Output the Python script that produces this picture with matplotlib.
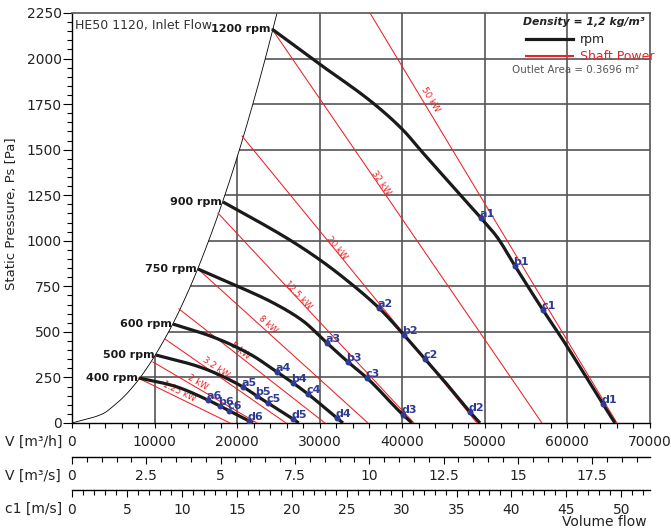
import numpy as np
import matplotlib
matplotlib.use('Agg')
import matplotlib.pyplot as plt
from matplotlib.patches import Polygon
from matplotlib.ticker import MultipleLocator

# ---------------- data ----------------
# system-limit (boundary) curve
bound_V = [0, 3700, 5200, 6400, 8270, 11700, 14340, 16550, 18510, 20280, 21900, 23410, 24830]
bound_P = [0, 50, 100, 150, 250, 500, 750, 1000, 1250, 1500, 1750, 2000, 2250]

# fan curves
rpm_labels = ['1200 rpm', '900 rpm', '750 rpm', '600 rpm', '500 rpm', '400 rpm']
V_1200 = [24220, 29791, 36451, 40084, 42506, 44800, 47000, 49530, 51468, 53647, 57038, 59460, 64304, 65757]
P_1200 = [2162, 1976, 1756, 1608, 1482, 1365, 1252, 1125, 1021, 862, 620, 455, 104, 0]
V_900 = [18286, 22000, 26400, 30033, 32818, 37178, 40205, 42748, 44565, 48198, 49409]
P_900 = [1213, 1120, 1004, 895, 800, 631, 483, 351, 258, 60, 0]
V_750 = [15259, 19982, 24341, 27974, 30881, 33424, 35725, 40084, 41174]
P_750 = [845, 752, 660, 560, 439, 335, 247, 45, 0]
V_600 = [12231, 17075, 21556, 24826, 26763, 28580, 32092, 32818]
P_600 = [543, 472, 378, 280, 220, 159, 27, 0]
V_500 = [10172, 15501, 20708, 22404, 23736, 26763, 27450]
P_500 = [373, 307, 198, 148, 110, 22, 0]
V_400 = [8114, 12231, 16470, 17923, 19013, 21435, 21919]
P_400 = [247, 205, 126, 93, 68, 11, 0]

# shaft power lines (start on boundary, end on V axis)
kw_labels = ['1.25 kW', '2 kW', '3.2 kW', '5 kW', '8 kW', '12.5 kW', '20 kW', '32 kW', '50 kW']
kw_V0 = [7993, 9809, 11262, 12958, 15259, 17681, 20587, 24220, 36088]
kw_P0 = [247, 335, 461, 626, 845, 1152, 1575, 2162, 2250]
kw_V1 = [19134, 22404, 25915, 30638, 35846, 41416, 49046, 56917, 65999]
kw_P1 = [0, 0, 0, 0, 0, 0, 0, 0, 0]
kw_lab_V = [12958, 15259, 17438, 20345, 23736, 27369, 32092, 37420, 43354]
kw_lab_P = [170, 225, 307, 395, 543, 702, 960, 1317, 1773]

# operating points
op_labels = ['a1', 'b1', 'c1', 'd1', 'a2', 'b2', 'c2', 'd2', 'a3', 'b3', 'c3', 'd3',
             'a4', 'b4', 'c4', 'd4', 'a5', 'b5', 'c5', 'd5', 'a6', 'b6', 'c6', 'd6']
op_V = [49530, 53647, 57038, 64304, 37178, 40205, 42748, 48198, 30881, 33424, 35725, 40084,
        24826, 26763, 28580, 32092, 20708, 22404, 23736, 26763, 16470, 17923, 19013, 21435]
op_P = [1125, 862, 620, 104, 631, 483, 351, 60, 439, 335, 247, 45,
        280, 220, 159, 27, 198, 148, 110, 22, 126, 93, 68, 11]

outlet_area = 0.3696
V_max = 70000
P_max = 2250

# ---------------- helpers ----------------
W, H = 671, 530


def pchip(xs, ys, n=400):
    """Monotone cubic (Fritsch-Carlson) through the read points."""
    x = np.asarray(xs, float)
    y = np.asarray(ys, float)
    h = np.diff(x)
    d = np.diff(y) / h
    m = np.zeros_like(x)
    m[0], m[-1] = d[0], d[-1]
    for k in range(1, len(x) - 1):
        if d[k - 1] * d[k] <= 0:
            m[k] = 0
        else:
            w1 = 2 * h[k] + h[k - 1]
            w2 = h[k] + 2 * h[k - 1]
            m[k] = (w1 + w2) / (w1 / d[k - 1] + w2 / d[k])
    xx = np.linspace(x[0], x[-1], n)
    idx = np.clip(np.searchsorted(x, xx) - 1, 0, len(x) - 2)
    t = (xx - x[idx]) / h[idx]
    h00 = 2 * t ** 3 - 3 * t ** 2 + 1
    h10 = t ** 3 - 2 * t ** 2 + t
    h01 = -2 * t ** 3 + 3 * t ** 2
    h11 = t ** 3 - t ** 2
    yy = h00 * y[idx] + h10 * h[idx] * m[idx] + h01 * y[idx + 1] + h11 * h[idx] * m[idx + 1]
    return xx, yy


def fx(x):
    return x / W


def fy(y):
    return 1 - y / H


plt.rcParams['font.family'] = ['DejaVu Sans']
fig = plt.figure(figsize=(W / 100, H / 100), dpi=100)
ax = fig.add_axes([fx(72), fy(423), 578 / W, 410 / H])
ax.set_xlim(0, V_max)
ax.set_ylim(0, P_max)

# grid clipped to the region right of the boundary curve
bV, bP = pchip(bound_V, bound_P)
verts = list(zip(bV, bP)) + [(V_max, P_max), (V_max, 0)]
clip = Polygon(verts, closed=True, transform=ax.transData)
grid_col = '#555555'
hl = ax.hlines(np.arange(250, P_max, 250), 0, V_max, colors=grid_col, lw=1.2, zorder=1)
vl = ax.vlines(np.arange(10000, V_max, 10000), 0, P_max, colors=grid_col, lw=1.2, zorder=1)
hl.set_clip_path(clip)
vl.set_clip_path(clip)

# boundary curve
ax.plot(bV, bP, color='black', lw=0.6, zorder=2)

# shaft power lines
red = '#ee2024'
for v0, p0, v1, p1, lab, lv, lp in zip(kw_V0, kw_P0, kw_V1, kw_P1, kw_labels, kw_lab_V, kw_lab_P):
    ax.plot([v0, v1], [p0, p1], color=red, lw=0.75, zorder=3)
    d0 = ax.transData.transform((v0, p0))
    d1 = ax.transData.transform((v1, p1))
    ang = np.degrees(np.arctan2(d1[1] - d0[1], d1[0] - d0[0]))
    ax.text(lv, lp, lab, color=red, fontsize=6.3, rotation=ang, rotation_mode='anchor',
            ha='center', va='center', zorder=4)

# fan curves
curves = [(V_1200, P_1200), (V_900, P_900), (V_750, P_750), (V_600, P_600), (V_500, P_500), (V_400, P_400)]
for (vs, ps), lab in zip(curves, rpm_labels):
    cx, cy = pchip(vs, ps)
    ax.plot(cx, cy, color='#1a1a1a', lw=2.3, solid_capstyle='butt', zorder=5)
    ax.annotate(lab, (vs[0], ps[0]), xytext=(-1, 0), textcoords='offset points',
                ha='right', va='center', fontsize=8, fontweight='bold', color='#1a1a1a', zorder=6)

# operating points
blue = '#2e3a94'
ax.plot(op_V, op_P, 'o', color=blue, ms=4.3, zorder=7, mec='none')
for v, p, lab in zip(op_V, op_P, op_labels):
    ax.annotate(lab, (v, p), xytext=(-1, -0.5), textcoords='offset points', ha='left', va='bottom',
                fontsize=8, fontweight='bold', color=blue, zorder=8)

# axes styling
for s in ['top', 'right']:
    ax.spines[s].set_color(grid_col)
    ax.spines[s].set_linewidth(1.2)
for s in ['left', 'bottom']:
    ax.spines[s].set_color('black')
    ax.spines[s].set_linewidth(1.0)
ax.yaxis.set_major_locator(MultipleLocator(250))
ax.yaxis.set_minor_locator(MultipleLocator(50))
ax.xaxis.set_minor_locator(MultipleLocator(2000))
ax.tick_params(axis='y', which='major', length=6.5, width=0.8, pad=1, labelsize=10, labelcolor='#222222')
ax.tick_params(axis='y', which='minor', length=3.6, width=0.8)
ax.tick_params(axis='x', which='major', length=3.6, width=0.8, pad=5, labelsize=10, labelcolor='#222222')
ax.tick_params(axis='x', which='minor', length=3.6, width=0.8)
ax.set_xticks(np.arange(0, V_max + 1, 10000))
ax.set_xticklabels([f'{int(v)}' for v in np.arange(0, V_max + 1, 10000)])

ax.text(0.006, 0.985, 'HE50 1120, Inlet Flow', transform=ax.transAxes, ha='left', va='top',
        fontsize=9, color='#333333')

# legend block
fig.text(fx(645), fy(22), 'Density = 1,2 kg/m³', ha='right', va='center', fontsize=7.8,
         fontstyle='italic', fontweight='bold', color='#222222')
fig.add_artist(plt.Line2D([fx(526), fx(573)], [fy(39), fy(39)], color='#1a1a1a', lw=2.3))
fig.text(fx(580), fy(39), 'rpm', ha='left', va='center', fontsize=9, color='#222222')
fig.add_artist(plt.Line2D([fx(526), fx(573)], [fy(56), fy(56)], color=red, lw=1.5))
fig.text(fx(580), fy(56), 'Shaft Power', ha='left', va='center', fontsize=9, color=red)
fig.text(fx(639), fy(70), 'Outlet Area = 0.3696 m²', ha='right', va='center', fontsize=7.4,
         color='#555555')

# y label
fig.text(fx(12), fy(214), 'Static Pressure, Ps [Pa]', rotation=90, ha='center', va='center',
         fontsize=9.5, color='#222222')

# secondary axis: V [m3/s]
ax2 = fig.add_axes([fx(72), fy(457), 578 / W, 0.0001])
ax2.set_xlim(0, V_max / 3600)
ax2.xaxis.set_minor_locator(MultipleLocator(0.5))
ax2.set_xticks(np.arange(0, 18, 2.5))
ax2.set_xticklabels(['0', '2.5', '5', '7.5', '10', '12.5', '15', '17.5'])

# secondary axis: c1 [m/s]
ax3 = fig.add_axes([fx(72), fy(490), 578 / W, 0.0001])
ax3.set_xlim(0, V_max / 3600 / outlet_area)
ax3.xaxis.set_major_locator(MultipleLocator(5))
ax3.xaxis.set_minor_locator(MultipleLocator(1))

for a in (ax2, ax3):
    a.patch.set_visible(False)
    a.set_yticks([])
    for s in ['top', 'right', 'left']:
        a.spines[s].set_visible(False)
    a.spines['bottom'].set_linewidth(1.0)
    a.tick_params(axis='x', which='major', length=5, width=0.8, pad=4, labelsize=10, labelcolor='#222222')
    a.tick_params(axis='x', which='minor', length=3.6, width=0.8)

fig.text(fx(5), fy(442), 'V [m³/h]', ha='left', va='center', fontsize=10, color='#222222')
fig.text(fx(5), fy(476), 'V [m³/s]', ha='left', va='center', fontsize=10, color='#222222')
fig.text(fx(5), fy(509), 'c1 [m/s]', ha='left', va='center', fontsize=10, color='#222222')
fig.text(fx(647), fy(522), 'Volume flow', ha='right', va='center', fontsize=10, color='#222222')

fig.savefig('out.png', dpi=100)
